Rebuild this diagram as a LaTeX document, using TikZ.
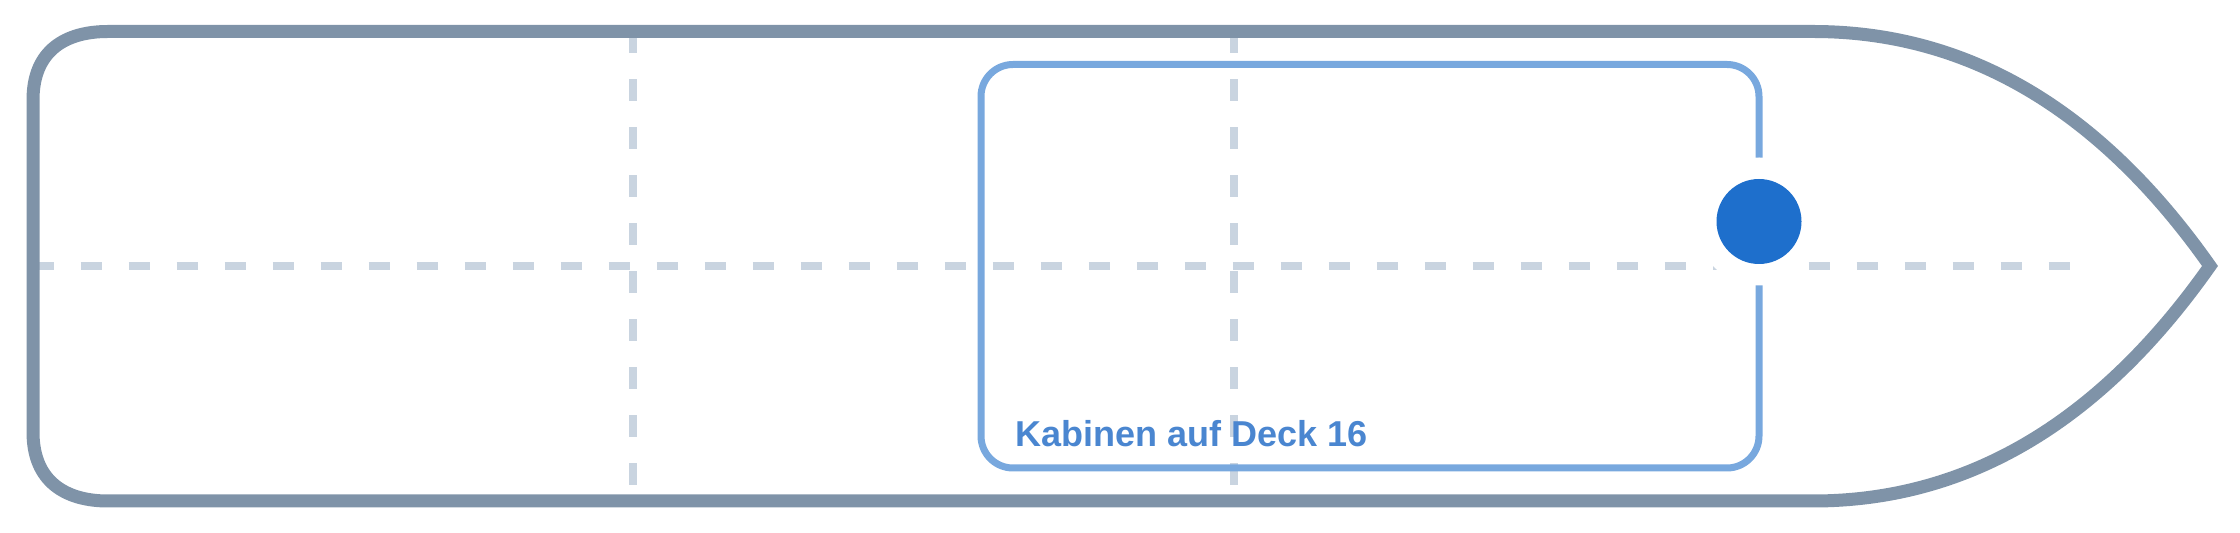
\documentclass[tikz,border=0pt]{standalone}
\usepackage{fontspec}
\setmainfont{Liberation Sans}
\definecolor{hullc}{HTML}{7F93A8}
\definecolor{boxc}{HTML}{78A8DE}
\definecolor{textc}{HTML}{4A86D0}
\definecolor{dotc}{HTML}{1E6FCC}
\definecolor{gridc}{HTML}{C9D4E0}
\tikzset{
  gridline/.style={draw=gridc, line width=3.75pt, dash pattern=on 10.75pt off 13.25pt},
  hullline/.style={draw=hullc, line width=6.5pt, line join=miter},
  cabinbox/.style={draw=boxc, line width=3.5pt, rounded corners=16pt},
  cabinlabel/.style={text=textc, font=\bfseries\fontsize{18pt}{21pt}\selectfont, inner sep=0pt, anchor=base west},
  dotstyle/.style={circle, fill=dotc, minimum size=42.5pt, inner sep=0pt},
}
\begin{document}
\begin{tikzpicture}[x=0.5pt,y=-0.5pt]
\useasboundingbox (0,0) rectangle (2240,533);
% grid
\draw[gridline] (32.5,266) -- (2072,266);
\draw[gridline] (633,31.5) -- (633,501);
\draw[gridline] (1234,31.5) -- (1234,501);
% cabin box
\draw[cabinbox] (981,64.5) rectangle (1759,468);
% marker with white halo
\fill[white] (1759,221.5) circle[radius=32pt];
\node[dotstyle] (dot) at (1759,221.5) {};
% hull
\draw[hullline] (1813,31.5) -- (108,31.5)
  .. controls (66,31.5) and (33,50) .. (33,100)
  -- (33,432)
  .. controls (33,482) and (66,501) .. (108,501)
  -- (1813,501)
  .. controls (1967.7,501) and (2100,422.3) .. (2210,266)
  .. controls (2100,109.7) and (1967.7,31.5) .. (1813,31.5) -- cycle;
% label
\node[cabinlabel] (label) at (1015,447) {Kabinen auf Deck 16};
\end{tikzpicture}
\end{document}
